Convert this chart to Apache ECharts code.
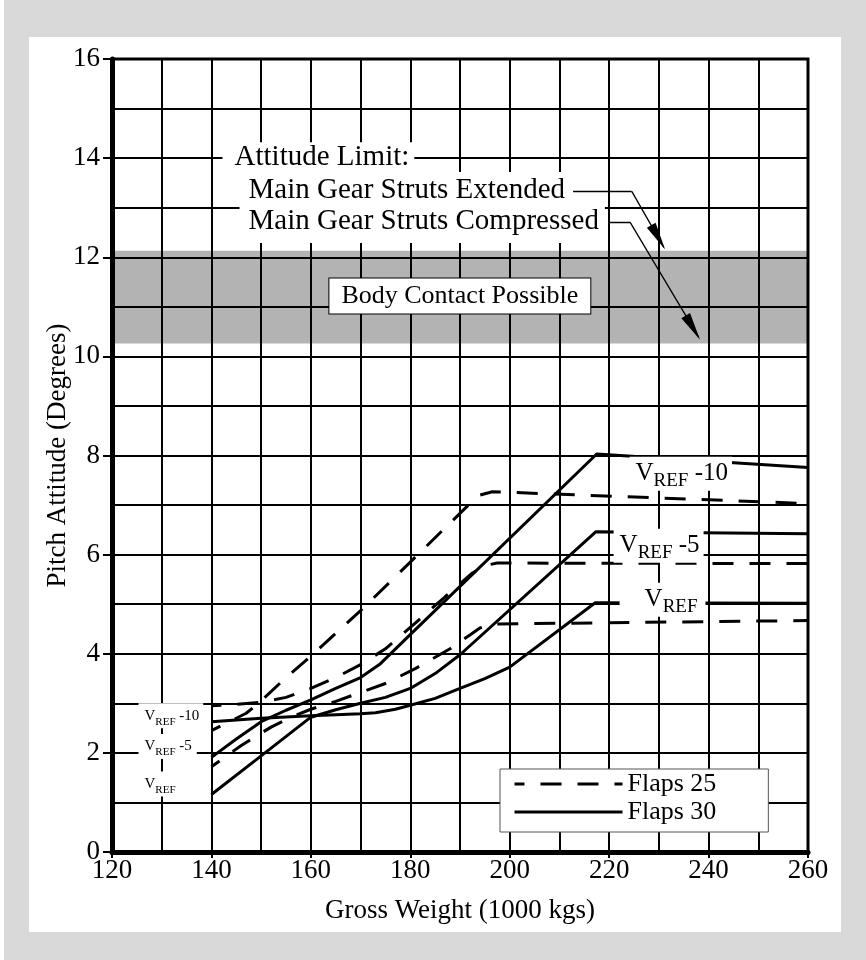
<!DOCTYPE html>
<html><head><meta charset="utf-8">
<script src="https://cdn.jsdelivr.net/npm/echarts@6/dist/echarts.min.js"></script>
<style>
html,body{margin:0;padding:0;background:#fff;}
#bg{position:absolute;left:4px;top:0;width:862px;height:960px;background:#d9d9d9;}
#panel{position:absolute;left:29px;top:37px;width:812px;height:895px;background:#fff;}
#chart{position:absolute;left:0;top:0;width:866px;height:960px;}
</style></head><body>
<div id="bg"></div><div id="panel"></div><div id="chart"></div>
<script>
// ---- data (Gross Weight [1000 kg], Pitch Attitude [deg]) ----
const flaps25Vref10 = [[140,2.45],[147,2.8],[150,3.05],[155,3.52],[160,3.95],[170,4.87],[180,5.85],[192,7.03],[194,7.2],[196.5,7.27],[260,7.03]];
const flaps25Vref5  = [[140,2.95],[145,2.98],[150,3.02],[155,3.12],[160,3.3],[165,3.52],[170,3.78],[175,4.1],[181,4.62],[187,5.15],[192.5,5.63],[195,5.78],[197.5,5.83],[260,5.82]];
const flaps25Vref   = [[140,1.72],[146,2.15],[152,2.52],[156,2.72],[160,2.88],[165,3.04],[170,3.22],[175,3.4],[181,3.7],[188,4.1],[192,4.38],[194,4.52],[196.5,4.6],[260,4.67]];
const flaps30Vref10 = [[140,1.91],[145,2.28],[150,2.63],[155,2.86],[160,3.07],[165,3.3],[170,3.52],[174,3.8],[179,4.29],[217.5,8.03],[260,7.76]];
const flaps30Vref5  = [[140,1.16],[150,1.94],[160,2.72],[165,2.87],[170,3.0],[175,3.12],[180,3.3],[185,3.6],[190,3.98],[217.3,6.46],[260,6.42]];
const flaps30Vref   = [[140,2.63],[150,2.7],[160,2.75],[170,2.79],[173,2.81],[177,2.88],[180,2.96],[185,3.1],[190,3.3],[195,3.5],[200,3.73],[217.2,5.03],[260,5.02]];
const bodyContactBand = [10.26, 12.13];
const legendNames = ['Flaps 25', 'Flaps 30'];
const xRange = [120, 260];
const yRange = [0, 16];

const FONT = 'Liberation Serif';
const chart = echarts.init(document.getElementById('chart'), null, {renderer: 'canvas'});

function curve(name, data, dashed) {
  return {
    name: name, type: 'line', data: data, z: 4, silent: true,
    symbol: 'none', showSymbol: false, clip: true,
    itemStyle: {color: '#000'},
    lineStyle: {color: '#000', width: 3, type: dashed ? [21, 16] : 'solid', dashOffset: 11}
  };
}

const bigRich = {
  v: {fontFamily: FONT, fontSize: 25, lineHeight: 34, color: '#000'},
  s: {fontFamily: FONT, fontSize: 19, lineHeight: 19, verticalAlign: 'bottom', color: '#000'},
  t: {fontFamily: FONT, fontSize: 25, lineHeight: 34, color: '#000'}
};
const smallRich = {
  v: {fontFamily: FONT, fontSize: 15, lineHeight: 23, color: '#000'},
  s: {fontFamily: FONT, fontSize: 11, lineHeight: 12, verticalAlign: 'bottom', color: '#000'},
  t: {fontFamily: FONT, fontSize: 15, lineHeight: 23, color: '#000'}
};

function annot(x, y, text, label) {
  return {value: [x, y], label: Object.assign({show: true, position: [0, 0], formatter: text, color: '#000', opacity: 1, fontFamily: FONT}, label)};
}

const annotations = [
  annot(142.33, 14.0, 'Attitude Limit:', {fontSize: 29, lineHeight: 31, align: 'left', verticalAlign: 'middle', backgroundColor: '#fff', padding: [0, 5, 0, 12]}),
  annot(145.75, 13.71, 'Main Gear Struts Extended\nMain Gear Struts Compressed', {fontSize: 29, lineHeight: 31, align: 'left', verticalAlign: 'top', backgroundColor: '#fff', padding: [3, 6, 6, 9]}),
  annot(190.07, 11.21, 'Body Contact Possible', {fontSize: 26, lineHeight: 29, align: 'center', verticalAlign: 'middle', backgroundColor: '#fff', borderColor: '#000', borderWidth: 1, padding: [3, 12, 3, 12]}),
  annot(224.2, 7.62, '{v|V}{s|REF}{t| -10}', {rich: bigRich, align: 'left', verticalAlign: 'middle', backgroundColor: '#fff', padding: [0, 4, 0, 6]}),
  annot(221.0, 6.17, '{v|V}{s|REF}{t| -5}', {rich: bigRich, align: 'left', verticalAlign: 'middle', backgroundColor: '#fff', padding: [0, 4, 0, 6]}),
  annot(222.2, 5.08, '{v|V}{s|REF}', {rich: bigRich, align: 'left', verticalAlign: 'middle', backgroundColor: '#fff', padding: [0, 8, 0, 25]}),
  annot(125.43, 2.74, '{v|V}{s|REF}{t| -10}', {rich: smallRich, align: 'left', verticalAlign: 'middle', backgroundColor: '#fff', padding: [1, 4, 1, 6]}),
  annot(125.43, 2.12, '{v|V}{s|REF}{t| -5}', {rich: smallRich, align: 'left', verticalAlign: 'middle', backgroundColor: '#fff', padding: [1, 5, 1, 6]}),
  annot(125.43, 1.36, '{v|V}{s|REF}', {rich: smallRich, align: 'left', verticalAlign: 'middle', backgroundColor: '#fff', padding: [1, 5, 1, 6]})
];

const axisCommon = {
  type: 'value', z: 3,
  axisLine: {show: true, onZero: false, lineStyle: {color: '#000', width: 5}},
  splitLine: {show: true, lineStyle: {color: '#000', width: 2}},
  minorTick: {show: false, splitNumber: 2},
  minorSplitLine: {show: true, lineStyle: {color: '#000', width: 2}},
  nameLocation: 'middle',
  nameMoveOverlap: false,
  nameTextStyle: {fontFamily: FONT, fontSize: 27, color: '#000'}
};

const option = {
  animation: false,
  textStyle: {fontFamily: FONT},
  grid: {left: 112, right: 58, top: 59, bottom: 108, show: true, borderColor: '#000', borderWidth: 3, backgroundColor: 'transparent', z: 3},
  xAxis: Object.assign({}, axisCommon, {
    min: xRange[0], max: xRange[1], interval: 20,
    name: 'Gross Weight (1000 kgs)', nameGap: 45,
    axisTick: {show: true, length: 6, lineStyle: {color: '#000', width: 2}},
    axisLabel: {fontFamily: FONT, fontSize: 27, color: '#000', margin: 5}
  }),
  yAxis: Object.assign({}, axisCommon, {
    min: yRange[0], max: yRange[1], interval: 2,
    name: 'Pitch Attitude (Degrees)', nameGap: 41,
    axisTick: {show: true, length: 9, lineStyle: {color: '#000', width: 2}},
    axisLabel: {fontFamily: FONT, fontSize: 27, color: '#000', margin: 12}
  }),
  legend: {
    data: legendNames, orient: 'vertical', left: 500, top: 769,
    itemWidth: 108, itemHeight: 14, itemGap: 0,
    itemStyle: {opacity: 0},
    lineStyle: {width: 3, color: '#000'},
    backgroundColor: '#fff', borderColor: '#555', borderWidth: 1,
    padding: [1, 52, 6, 13], selectedMode: false,
    textStyle: {fontFamily: FONT, fontSize: 26, color: '#000', lineHeight: 28}
  },
  series: [
    {name: 'band', type: 'line', data: [], z: 1, silent: true,
     markArea: {silent: true, z: 1, itemStyle: {color: '#b3b3b3'},
       data: [[{yAxis: bodyContactBand[0]}, {yAxis: bodyContactBand[1]}]]}},
    curve(legendNames[0], flaps25Vref10, true),
    curve(legendNames[0], flaps25Vref5, true),
    curve(legendNames[0], flaps25Vref, true),
    curve(legendNames[1], flaps30Vref10, false),
    curve(legendNames[1], flaps30Vref5, false),
    curve(legendNames[1], flaps30Vref, false),
    {name: 'annot', type: 'scatter', z: 6, silent: true, symbolSize: 1,
     emphasis: {disabled: true},
     itemStyle: {color: 'rgba(0,0,0,0)', opacity: 1}, data: annotations},
    {name: 'leaders', type: 'lines', coordinateSystem: 'cartesian2d', z: 7, silent: true,
     symbol: ['none', 'none'], lineStyle: {color: '#000', width: 1.3, opacity: 1},
     data: [
       {coords: [[212.74, 13.33], [224.55, 13.33]]},
       {coords: [[219.78, 12.71], [224.2, 12.71]]},
       {coords: [[224.55, 13.33], [231.0, 12.2]]},
       {coords: [[224.2, 12.71], [238.0, 10.39]]}
     ]},
    {name: 'arrowheads', type: 'scatter', z: 7, silent: true,
     emphasis: {disabled: true},
     symbol: 'path://M5,0 L10,30 L0,30 Z', symbolSize: [10, 28],
     itemStyle: {color: '#000', opacity: 1},
     data: [
       {value: [229.86, 12.40], symbolRotate: 209.7},
       {value: [236.84, 10.58], symbolRotate: 210.8}
     ]}
  ]
};
chart.setOption(option);
</script>
</body></html>
